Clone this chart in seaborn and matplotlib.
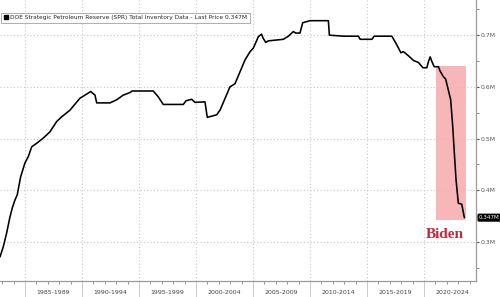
import matplotlib
matplotlib.use("Agg")
import matplotlib.pyplot as plt
import seaborn as sns
import pandas as pd
from matplotlib.patches import Rectangle, Patch
from matplotlib.ticker import MultipleLocator, FixedLocator, NullFormatter

# ---- data ----
years = [1982.81, 1983.10, 1983.39, 1983.68, 1983.89, 1984.12, 1984.32, 1984.62,
         1985.00, 1985.29, 1985.59, 1986.03, 1986.61, 1987.19, 1987.78, 1988.22,
         1988.95, 1989.82, 1990.41, 1990.76, 1991.14, 1991.29, 1992.46, 1993.04,
         1993.62, 1994.21, 1994.40, 1996.25, 1996.68, 1997.13, 1998.89, 1999.12,
         1999.62, 1999.91, 2000.79, 2000.99, 2001.82, 2002.11, 2002.98, 2003.42,
         2003.86, 2004.30, 2004.74, 2005.03, 2005.47, 2005.75, 2005.89, 2006.12,
         2006.35, 2007.67, 2008.10, 2008.54, 2008.75, 2009.12, 2009.36, 2010.00,
         2011.61, 2011.70, 2012.93, 2014.25, 2014.40, 2015.43, 2015.63, 2017.18,
         2017.62, 2017.97, 2018.20, 2018.64, 2019.08, 2019.52, 2019.90, 2020.25,
         2020.39, 2020.54, 2020.69, 2020.89, 2021.27, 2021.40, 2021.69, 2021.90,
         2022.13, 2022.34, 2022.52, 2022.66, 2022.81, 2023.01, 2023.31, 2023.54]
values = [0.271, 0.291, 0.317, 0.348, 0.366, 0.381, 0.391, 0.426,
          0.453, 0.465, 0.484, 0.491, 0.501, 0.513, 0.533, 0.542,
          0.555, 0.578, 0.586, 0.591, 0.584, 0.569, 0.569, 0.575,
          0.584, 0.589, 0.592, 0.592, 0.581, 0.566, 0.566, 0.573,
          0.576, 0.570, 0.571, 0.541, 0.546, 0.555, 0.600, 0.606,
          0.629, 0.652, 0.668, 0.675, 0.697, 0.702, 0.694, 0.686,
          0.689, 0.692, 0.698, 0.707, 0.704, 0.704, 0.724, 0.728,
          0.728, 0.700, 0.698, 0.698, 0.692, 0.692, 0.698, 0.698,
          0.681, 0.666, 0.668, 0.660, 0.651, 0.647, 0.637, 0.637,
          0.649, 0.658, 0.649, 0.639, 0.639, 0.631, 0.620, 0.615,
          0.594, 0.575, 0.523, 0.472, 0.420, 0.375, 0.373, 0.347]

period_labels = ["1985-1989", "1990-1994", "1995-1999", "2000-2004",
                 "2005-2009", "2010-2014", "2015-2019", "2020-2024"]
period_starts = [1985, 1990, 1995, 2000, 2005, 2010, 2015, 2020]
ytick_values = [0.3, 0.4, 0.5, 0.6, 0.7]
ytick_labels = ["0.3M", "0.4M", "0.5M", "0.6M", "0.7M"]
legend_label = "DOE Strategic Petroleum Reserve (SPR) Total Inventory Data - Last Price 0.347M"
last_label = "0.347M"
biden_span = (2021.05, 2023.68)
biden_range = (0.3426, 0.641)

df = pd.DataFrame({"year": years, "value": values})

sns.set_theme(style="white")
plt.rcParams["font.family"] = ["DejaVu Sans"]

fig = plt.figure(figsize=(5.0, 2.97), dpi=100)
ax = fig.add_axes([0.0, 16 / 297, 476 / 500, 281 / 297])

# Biden shaded box
ax.add_patch(Rectangle((biden_span[0], biden_range[0]),
                       biden_span[1] - biden_span[0], biden_range[1] - biden_range[0],
                       facecolor="#f6a9ab", edgecolor="none", alpha=0.85, zorder=1))

sns.lineplot(data=df, x="year", y="value", ax=ax, color="black", lw=1.15,
             estimator=None, sort=False, zorder=3)

ax.set_xlim(1982.81, 2024.56)
ax.set_ylim(0.2245, 0.768)
ax.set_xlabel("")
ax.set_ylabel("")

# grid
grid_kw = dict(color="#c8c8c8", lw=0.8, ls=(0, (1, 2)), zorder=0)
for xs in period_starts:
    ax.axvline(xs, **grid_kw)
for yv in ytick_values:
    ax.axhline(yv, **grid_kw)

# spines
for s in ["top", "left"]:
    ax.spines[s].set_visible(False)
for s in ["right", "bottom"]:
    ax.spines[s].set_color("#9a9a9a")
    ax.spines[s].set_linewidth(0.9)

# y axis on the right
ax.yaxis.tick_right()
ax.set_yticks(ytick_values)
ax.set_yticklabels(ytick_labels)
ax.yaxis.set_minor_locator(FixedLocator([0.25, 0.35, 0.45, 0.55, 0.65, 0.75]))
ax.tick_params(axis="y", which="major", right=True, left=False, length=2.5, width=0.8,
               color="#555555", labelsize=4.4, labelcolor="#555555", pad=1)
ax.tick_params(axis="y", which="minor", right=True, left=False, length=2, width=0.6,
               color="#777777")

# x axis: separators at 5-year boundaries, labels centered, small year ticks
ax.set_xticks(period_starts)
ax.set_xticklabels([""] * len(period_starts))
ax.tick_params(axis="x", which="major", bottom=True, length=12, width=0.6, color="#c0c0c0")
ax.xaxis.set_minor_locator(MultipleLocator(1))
ax.xaxis.set_minor_formatter(NullFormatter())
ax.tick_params(axis="x", which="minor", bottom=True, length=2, width=0.6, color="#888888")
for start, lab in zip(period_starts, period_labels):
    ax.annotate(lab, xy=(start + 2.5, 0), xycoords=("data", "axes fraction"),
                xytext=(0, -8.5), textcoords="offset points", ha="center", va="center",
                fontsize=4.5, color="#444444", annotation_clip=False)

# legend box
leg = ax.legend(handles=[Patch(facecolor="black", edgecolor="black")], labels=[legend_label],
                loc="upper left", bbox_to_anchor=(0.003, 0.955), fontsize=4.2,
                frameon=True, fancybox=False, handlelength=0.8, handleheight=0.8,
                handletextpad=0.3, borderpad=0.4, borderaxespad=0.0)
leg.get_frame().set_edgecolor("#9a9a9a")
leg.get_frame().set_linewidth(0.7)

# last price tag
ax.annotate(last_label, xy=(1.0, values[-1]), xycoords=("axes fraction", "data"),
            xytext=(2.2, 0), textcoords="offset points", ha="left", va="center",
            fontsize=4.1, color="white", annotation_clip=False,
            bbox=dict(boxstyle="round,pad=0.15", fc="black", ec="black"))

# Biden label
ax.text(sum(biden_span) / 2 - 0.5, 0.3145, "Biden", ha="center", va="center",
        fontsize=11, fontweight="bold", family="Liberation Serif", color="#c3293b", zorder=4)

fig.savefig("out.png", dpi=100)
